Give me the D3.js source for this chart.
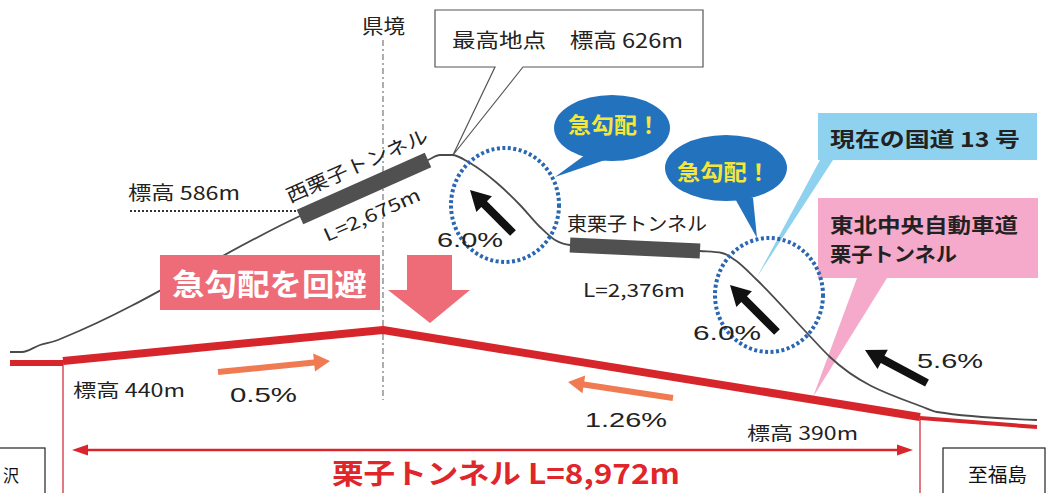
<!DOCTYPE html>
<html>
<head>
<meta charset="utf-8">
<script src="https://d3js.org/d3.v7.min.js"></script>
<style>
  body { margin: 0; background: #fff; }
  svg { display: block; }
  text { font-family: "Noto Sans CJK JP", sans-serif; }
  .num { font-family: "Liberation Sans", Arial, sans-serif; }
</style>
</head>
<body>
<svg id="chart"></svg>
<script>
  // drawing units: x = distance along the route, h = height on the drawing
  const roadProfile = [
    [10,141],[22,141],[40,148],[55,152],[65,156],[300,277],[428,333],[440,338],[452,338],
    [470,330],[497,310],[520,288],[540,266],[555,253],[570,248],[700,242],[722,240],
    [735,233],[757,213],[807,160],[830,136],[923,86],[937,81],[1037,73]
  ];
  const tunnelNames = ["西栗子トンネル", "東栗子トンネル"];
  const tunnelEnds = [[[300,276],[428,333]], [[570,248],[700,242]]];

  const newTunnel = [[63,132],[383,163],[920,76]];
  const approachWest = [[10,130],[63,130]];
  const approachEast = [[920,75],[1037,66]];

  const steepSpots = [[505,288], [769,198]];          // dotted circles
  const slopeArrows = [                               // black arrows: tail -> tip
    [[513,260],[470,303]], [[777,161],[730,208]], [[927,110],[865,143]]
  ];
  const slopeLabels = ["6.0%", "6.0%", "5.6%"];
  const gentleArrows = [[[218,121],[330,132]], [[673,95],[568,111]]];
  const gentleLabels = ["0.5%", "1.26%"];

  const bubbleCenters = [[612,365],[726,325]];
  const bubbleTails = [
    [[585,338],[605,333],[555,316]],
    [[733,298],[753,295],[757,255]]
  ];

  const W = 1049, H = 493;
  const svg = d3.select("#chart").attr("width", W).attr("height", H);
  const x = d3.scaleLinear().domain([0, 1049]).range([0, W]);
  const y = d3.scaleLinear().domain([0, 493]).range([H, 0]);
  const pt = d => [x(d[0]), y(d[1])];

  function arrowPoints(a, b, sw, hw, hl) {
    const [x1, y1] = pt(a), [x2, y2] = pt(b);
    const len = Math.hypot(x2 - x1, y2 - y1);
    const ux = (x2 - x1) / len, uy = (y2 - y1) / len, nx = -uy, ny = ux;
    const bx = x2 - ux * hl, by = y2 - uy * hl;
    return [
      [x1 + nx*sw/2, y1 + ny*sw/2], [bx + nx*sw/2, by + ny*sw/2], [bx + nx*hw/2, by + ny*hw/2],
      [x2, y2], [bx - nx*hw/2, by - ny*hw/2], [bx - nx*sw/2, by - ny*sw/2], [x1 - nx*sw/2, y1 - ny*sw/2]
    ].join(" ");
  }
  const poly = pts => pts.map(pt).join(" ");

  // prefecture border
  svg.append("line")
    .attr("x1", x(383)).attr("x2", x(383)).attr("y1", y(453)).attr("y2", y(93))
    .attr("stroke", "#777").attr("stroke-width", 1.2).attr("stroke-dasharray", "6,3,2,3");

  // end boxes
  svg.append("rect").attr("x", x(-1)).attr("y", y(45)).attr("width", x(46) - x(0)).attr("height", 50)
    .attr("fill", "#fff").attr("stroke", "#222").attr("stroke-width", 1.2);
  svg.append("rect").attr("x", x(943)).attr("y", y(45)).attr("width", x(1045) - x(943)).attr("height", 50)
    .attr("fill", "#fff").attr("stroke", "#222").attr("stroke-width", 1.2);

  // vertical limits of the new tunnel
  [[63,132],[920,76]].forEach(d => {
    svg.append("line").attr("x1", x(d[0])).attr("x2", x(d[0])).attr("y1", y(d[1])).attr("y2", y(0))
      .attr("stroke", "#e27880").attr("stroke-width", 2);
  });

  // length arrow
  svg.append("line").attr("x1", x(80)).attr("x2", x(905)).attr("y1", y(43)).attr("y2", y(43))
    .attr("stroke", "#d9262c").attr("stroke-width", 2.5);
  svg.append("polygon").attr("points", arrowPoints([100,43],[72,43],0,11,16)).attr("fill", "#d9262c");
  svg.append("polygon").attr("points", arrowPoints([885,43],[913,43],0,11,16)).attr("fill", "#d9262c");

  // dotted line at 586m
  svg.append("line").attr("x1", x(130)).attr("x2", x(300)).attr("y1", y(282)).attr("y2", y(282))
    .attr("stroke", "#333").attr("stroke-width", 2).attr("stroke-dasharray", "2,2");

  // callouts
  svg.append("polygon").attr("points", poly([[820,333],[833,333],[757,216]])).attr("fill", "#8fd2ef");
  svg.append("rect").attr("x", x(818)).attr("y", y(380)).attr("width", x(1037) - x(818)).attr("height", y(333) - y(380))
    .attr("fill", "#8fd2ef");
  svg.append("polygon").attr("points", poly([[857,215],[887,215],[813,96]])).attr("fill", "#f5aacb");
  svg.append("rect").attr("x", x(818)).attr("y", y(295)).attr("width", x(1038) - x(818)).attr("height", y(215) - y(295))
    .attr("fill", "#f5aacb");
  svg.append("polygon")
    .attr("points", poly([[435,483],[703,483],[703,426],[523,426],[453,338],[495,426],[435,426]]))
    .attr("fill", "#fff").attr("stroke", "#555").attr("stroke-width", 1.2);

  // old road (national route 13)
  const line = d3.line().x(d => x(d[0])).y(d => y(d[1])).curve(d3.curveMonotoneX);
  svg.append("path").datum(roadProfile).attr("d", line)
    .attr("fill", "none").attr("stroke", "#4a4a4a").attr("stroke-width", 1.8);
  tunnelEnds.forEach((t, i) => {
    svg.append("line").attr("x1", x(t[0][0])).attr("y1", y(t[0][1])).attr("x2", x(t[1][0])).attr("y2", y(t[1][1]))
      .attr("stroke", "#505050").attr("stroke-width", i === 0 ? 16 : 15);
  });

  // new tunnel line
  const straight = d3.line().x(d => x(d[0])).y(d => y(d[1]));
  svg.append("path").datum(approachWest).attr("d", straight).attr("fill", "none").attr("stroke", "#d7262b").attr("stroke-width", 6);
  svg.append("path").datum(approachEast).attr("d", straight).attr("fill", "none").attr("stroke", "#d7262b").attr("stroke-width", 4);
  svg.append("path").datum(newTunnel).attr("d", straight).attr("fill", "none").attr("stroke", "#d7262b").attr("stroke-width", 8)
    .attr("stroke-linejoin", "round");

  // steep spots
  steepSpots.forEach(d => {
    svg.append("ellipse").attr("cx", x(d[0])).attr("cy", y(d[1])).attr("rx", 54).attr("ry", 57)
      .attr("fill", "none").attr("stroke", "#2a67b3").attr("stroke-width", 4).attr("stroke-dasharray", "3,2.5");
  });
  bubbleCenters.forEach((c, i) => {
    svg.append("polygon").attr("points", poly(bubbleTails[i])).attr("fill", "#2372be");
    svg.append("ellipse").attr("cx", x(c[0])).attr("cy", y(c[1])).attr("rx", i ? 61 : 58).attr("ry", 33).attr("fill", "#2372be");
  });

  slopeArrows.forEach(a => {
    svg.append("polygon").attr("points", arrowPoints(a[0], a[1], 8, 22, 20)).attr("fill", "#111");
  });
  gentleArrows.forEach(a => {
    svg.append("polygon").attr("points", arrowPoints(a[0], a[1], 6, 18, 16)).attr("fill", "#f07a52");
  });

  // avoid-steep box and down arrow
  svg.append("rect").attr("x", x(160)).attr("y", y(238)).attr("width", x(380) - x(160)).attr("height", y(183) - y(238))
    .attr("fill", "#ee6b78");
  svg.append("polygon")
    .attr("points", poly([[407,238],[452,238],[452,203],[470,203],[430,170],[388,203],[407,203]]))
    .attr("fill", "#ee6b78");

  // labels: text, x, h, width, size, weight, colour, class, rotate
  const labels = [
    ["県境", 362, 459, 43, 20, 400, "#222"],
    ["最高地点　標高 626m", 452, 445, 231, 20, 400, "#222"],
    ["標高 586m", 128, 293, 112, 19, 400, "#222"],
    [tunnelNames[0], 290, 290, 153, 19, 400, "#222", "", -24],
    ["L=2,675m", 327, 251, 104, 18, 400, "#222", "", -24],
    [tunnelNames[1], 567, 262, 140, 19, 400, "#222"],
    ["L=2,376m", 583, 196, 102, 18, 400, "#222"],
    [slopeLabels[0], 437, 246, 66, 21, 400, "#222", "num"],
    [slopeLabels[1], 693, 153, 68, 21, 400, "#222", "num"],
    [slopeLabels[2], 917, 125, 66, 21, 400, "#222", "num"],
    ["標高 440m", 73, 96, 112, 18, 400, "#222"],
    [gentleLabels[0], 230, 91, 67, 21, 400, "#222", "num"],
    [gentleLabels[1], 585, 66, 82, 21, 400, "#222", "num"],
    ["標高 390m", 747, 53, 111, 18, 400, "#222"],
    ["栗子トンネル L=8,972m", 332, 9, 348, 28, 700, "#e0262b"],
    ["急勾配を回避", 172, 198, 195, 30, 700, "#fff"],
    ["急勾配！", 568, 360, 92, 22, 700, "#f4e63a"],
    ["急勾配！", 677, 313, 93, 22, 700, "#f4e63a"],
    ["現在の国道 13 号", 830, 346, 190, 20, 700, "#222"],
    ["東北中央自動車道", 830, 260, 188, 20, 700, "#222"],
    ["栗子トンネル", 830, 231, 127, 20, 700, "#222"],
    ["沢", 3, 11, 16, 17, 400, "#111"],
    ["至福島", 968, 11, 59, 19, 400, "#111"]
  ];
  labels.forEach(l => {
    const t = svg.append("text")
      .attr("x", x(l[1])).attr("y", y(l[2]))
      .attr("font-size", l[4]).attr("font-weight", l[5]).attr("fill", l[6])
      .attr("textLength", l[3]).attr("lengthAdjust", "spacingAndGlyphs")
      .text(l[0]);
    if (l[7]) t.attr("class", l[7]);
    if (l[8]) t.attr("transform", `rotate(${l[8]},${x(l[1])},${y(l[2])})`);
  });
</script>
</body>
</html>
